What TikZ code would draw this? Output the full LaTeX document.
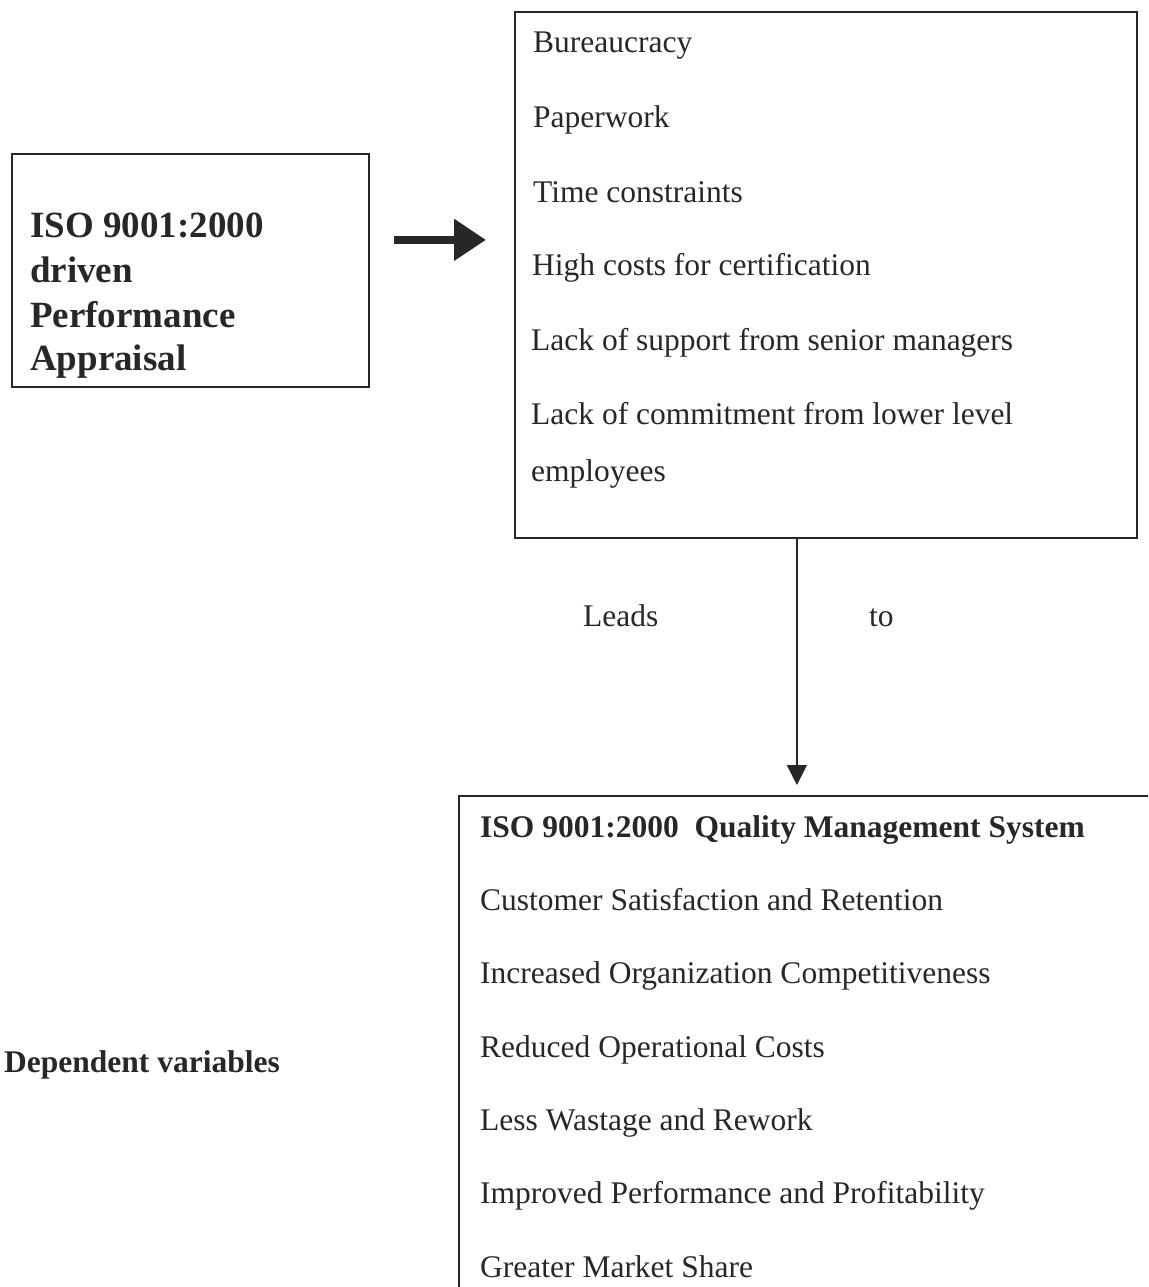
\documentclass[tikz,border=0pt]{standalone}
\usepackage{fontspec}
\setmainfont{Liberation Serif}
\usetikzlibrary{arrows.meta,positioning}
\tikzset{
  box_n/.style = {draw=my_black, line width=1.8pt, rectangle, inner sep=0pt, anchor=north west},
  item_n/.style = {anchor=base west, inner sep=0pt, text=my_black, font=\fontsize{31.5}{38}\selectfont},
  item_b/.style = {item_n, font=\fontsize{31.5}{38}\selectfont\bfseries},
  head_b/.style = {item_n, font=\fontsize{37}{44}\selectfont\bfseries}
}
\definecolor{my_black}{RGB}{38, 40, 40}

\begin{document}
\begin{tikzpicture}[x=1pt, y=-1pt,
            fat/.style={draw=my_black, line width=8pt, -{Triangle[length=32pt,width=40pt]}},
            lead/.style={draw=my_black, line width=1.6pt, -{Triangle[length=20pt,width=20pt]}}]
  \useasboundingbox (0,0) rectangle (1148,1287);
  \clip (0,0) rectangle (1148,1287);

  \node [box_n, minimum width=357pt, minimum height=233pt] (appraisal) at (11,153) {};
  \node [head_b] (iso_l) at (30,237) {ISO 9001:2000};
  \node [head_b] (driven_l) at (30,282) {driven};
  \node [head_b] (perf_l) at (30,327) {Performance};
  \node [head_b] (appr_l) at (30,370) {Appraisal};

  \node [box_n, minimum width=622pt, minimum height=526pt] (problems) at (514,11) {};
  \node [item_n] (bureau) at (533,53) {Bureaucracy};
  \node [item_n] (paper) at (533,128) {Paperwork};
  \node [item_n] (time) at (533,202) {Time constraints};
  \node [item_n] (costs) at (532,275) {High costs for certification};
  \node [item_n] (support) at (531,350) {Lack of support from senior managers};
  \node [item_n] (commit) at (531,424) {Lack of commitment from lower level};
  \node [item_n] (employ) at (531,481) {employees};

  \node [box_n, minimum width=720pt, minimum height=520pt] (qms) at (458,795) {};
  \node [item_b] (qms_t) at (480,837) {ISO 9001:2000\ \ Quality Management System};
  \node [item_n] (cust) at (480,910) {Customer Satisfaction and Retention};
  \node [item_n] (compet) at (480,983) {Increased Organization Competitiveness};
  \node [item_n] (reduced) at (480,1057) {Reduced Operational Costs};
  \node [item_n] (waste) at (480,1130) {Less Wastage and Rework};
  \node [item_n] (improved) at (480,1203) {Improved Performance and Profitability};
  \node [item_n] (market) at (480,1277) {Greater Market Share};

  \node [item_b] (dependent) at (4,1072) {Dependent variables};
  \node [item_n] (leads) at (583,626) {Leads};
  \node [item_n] (to) at (869,626) {to};

  \path ([yshift=30.5pt]appraisal.east) coordinate (fat_l);
  \draw [fat, shorten <=24pt, shorten >=28pt] (fat_l) -- (fat_l -| problems.west);
  \path ([xshift=-29pt]problems.south) coordinate (lead_s);
  \draw [lead, shorten >=10pt] (lead_s) -- (lead_s |- qms.north);
\end{tikzpicture}
\end{document}
